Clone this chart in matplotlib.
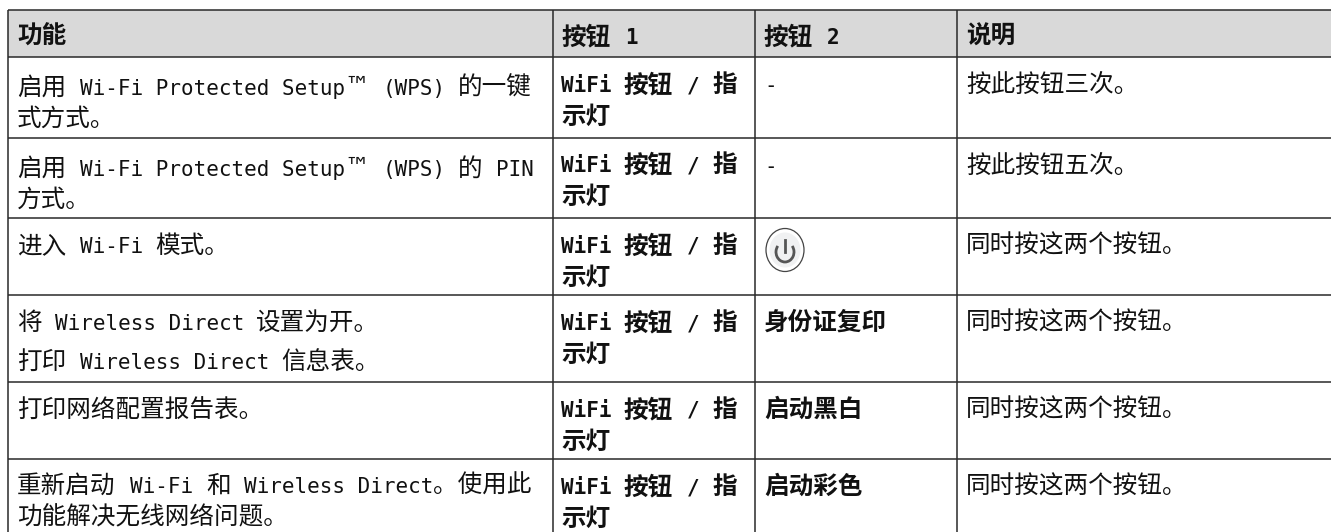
import re
import matplotlib
matplotlib.use('Agg')
import matplotlib.pyplot as plt
from matplotlib.patches import Rectangle, Ellipse, Arc

W, H = 1331, 532
col_x = [8, 553, 755, 957]
row_y = [10, 57, 137.5, 218, 295, 382, 459]
# baseline of the first line of the first column, per row
col1_base = [95, 176, 253, 330, 418, 493]

headers = ['功能', '按钮 1', '按钮 2', '说明']
col1 = [['启用 Wi-Fi Protected Setup™ (WPS) 的一键', '式方式。'],
        ['启用 Wi-Fi Protected Setup™ (WPS) 的 PIN', '方式。'],
        ['进入 Wi-Fi 模式。'],
        ['将 Wireless Direct 设置为开。', '打印 Wireless Direct 信息表。'],
        ['打印网络配置报告表。'],
        ['重新启动 Wi-Fi 和 Wireless Direct。使用此', '功能解决无线网络问题。']]
col2 = ['WiFi 按钮 / 指', '示灯']
col3 = ['-', '-', None, '身份证复印', '启动黑白', '启动彩色']
col4 = ['按此按钮三次。', '按此按钮五次。', '同时按这两个按钮。', '同时按这两个按钮。', '同时按这两个按钮。', '同时按这两个按钮。']

half = 12.6  # px per half width cell
cjk_fs = 17.7
lat_fs = 15.07
ink = '#111111'
line_c = '#2a2a2a'

fig = plt.figure(figsize=(W / 100, H / 100), dpi=100)
ax = fig.add_axes([0, 0, 1, 1])
ax.set_xlim(0, W)
ax.set_ylim(H, 0)
ax.axis('off')


def draw_line(x, y, s, bold=False):
	# latin is half width, cjk full width, so each run goes on its own
	weight = 'bold' if bold else 'normal'
	for run in re.findall(r'[ -~]+|™|[^ -~™]+', s):
		if run == '™':
			ax.text(x, y - 1, run, fontsize=18, family='DejaVu Sans', color=ink, va='baseline')
			x += 2 * half
		elif run[0].isascii():
			body = run.strip(' ')
			lead = len(run) - len(run.lstrip(' '))
			if body:
				ax.text(x + lead * half, y, body, fontsize=lat_fs, family='DejaVu Sans Mono', fontweight=weight, color=ink, va='baseline')
			x += len(run) * half
		else:
			ax.text(x, y, run, fontsize=cjk_fs, family='Noto Sans CJK SC', fontweight=weight, color=ink, va='baseline')
			x += 2 * len(run) * half


ax.add_patch(Rectangle((col_x[0], row_y[0]), W - col_x[0], row_y[1] - row_y[0], fc='#d9d9d9', ec='none'))
for x in col_x:
	ax.plot([x, x], [row_y[0], H], color=line_c, lw=1.1, solid_capstyle='butt')
for y in row_y:
	ax.plot([col_x[0], W], [y, y], color=line_c, lw=1.1, solid_capstyle='butt')

for i, t in enumerate(headers):
	draw_line(col_x[i] + 9, 44, t, bold=True)

for r in range(6):
	top = row_y[r + 1]
	gap = 39 if r == 3 else 30.5
	for k, t in enumerate(col1[r]):
		draw_line(col_x[0] + 9, col1_base[r] + k * gap, t)
	for k, t in enumerate(col2):
		draw_line(col_x[1] + 8, top + 35 + k * 31.5, t, bold=True)
	if col3[r] is not None:
		draw_line(col_x[2] + 9, top + 35, col3[r], bold=col3[r] != '-')
	draw_line(col_x[3] + 9, top + 35, col4[r])

# power button
ax.add_patch(Ellipse((785, 250), 38, 43, fc='white', ec='#444444', lw=0.9))
ax.add_patch(Ellipse((785, 250), 31, 35, fc='#f0f1f2', ec='none'))
ax.add_patch(Arc((785, 252), 18, 20, theta1=-40, theta2=220, color='#555555', lw=2))
ax.plot([785, 785], [240, 252], color='#555555', lw=2)

fig.savefig('out.png', dpi=100)
